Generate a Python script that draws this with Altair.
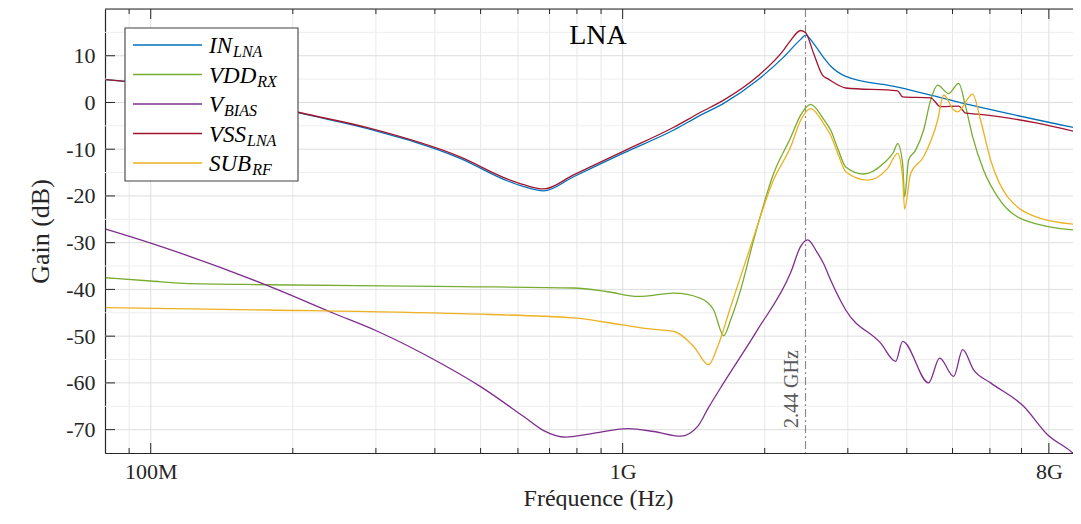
import altair as alt
import pandas as pd

FONT = "Liberation Serif"
INK = "#262626"

# ---------------- data (frequency in GHz, gain in dB) ----------------
names = ["IN_LNA", "VDD_RX", "V_BIAS", "VSS_LNA", "SUB_RF"]
colors = ["#0072BD", "#77AC30", "#7E2F8E", "#A2142F", "#EDB120"]
legend_main = ["IN", "VDD", "V", "VSS", "SUB"]
legend_sub = ["LNA", "RX", "BIAS", "LNA", "RF"]

in_lna_ghz = [0.0803, 0.100, 0.1276, 0.163, 0.2078, 0.288, 0.4536, 0.5706, 0.617, 0.680,
              0.787, 1.0, 1.283, 1.463, 1.637, 1.932, 2.193, 2.383, 2.442, 2.539, 2.666,
              2.758, 2.969, 3.825, 5.279, 10.0]
in_lna_db = [4.9, 3.9, 2.3, 0.3, -2.3, -5.6, -12.0, -16.8, -18.0, -18.9,
             -15.9, -10.9, -5.9, -2.7, -0.2, 4.8, 9.7, 13.5, 14.4, 12.6, 9.6,
             7.8, 5.6, 3.3, -0.2, -6.3]

vdd_rx_ghz = [0.0803, 0.100, 0.1174, 0.177, 0.4536, 0.787, 0.929, 1.081, 1.283, 1.463,
              1.559, 1.637, 1.694, 1.778, 1.895, 2.089, 2.27, 2.383, 2.502, 2.666,
              2.758, 2.86, 2.969, 3.241, 3.573, 3.751, 3.825, 3.919, 3.958, 4.036,
              4.176, 4.342, 4.493, 4.650, 4.906, 5.152, 5.330, 5.515, 5.819, 6.231,
              7.072, 9.34, 10.0]
vdd_rx_db = [-37.5, -38.2, -38.7, -39.0, -39.4, -39.7, -40.5, -41.5, -40.8, -41.9,
             -44.4, -49.9, -46.5, -40.1, -29.4, -15.2, -7.5, -2.7, -0.4, -3.6,
             -5.9, -10.0, -13.8, -15.3, -13.0, -10.6, -8.8, -13.0, -20.2, -12.3,
             -10.2, -5.9, 0.5, 3.7, 1.9, 4.1, -0.9, -7.3, -14.5, -20.2,
             -25.1, -27.4, -27.5]

v_bias_ghz = [0.0803, 0.100, 0.177, 0.244, 0.303, 0.4115, 0.500, 0.617, 0.680, 0.757,
              0.855, 1.025, 1.163, 1.327, 1.442, 1.52, 1.637, 1.932, 2.27, 2.383,
              2.466, 2.58, 2.666, 2.758, 2.969, 3.521, 3.788, 3.919, 4.449, 4.695,
              5.028, 5.253, 5.542, 6.021, 7.072, 7.950, 8.896, 9.34, 10.0]
v_bias_db = [-27.1, -30.1, -39.2, -45.1, -49.0, -55.8, -60.8, -67.2, -70.2, -71.6,
             -70.9, -69.8, -70.4, -71.4, -69.3, -65.3, -60.0, -48.6, -36.4, -30.8,
             -29.4, -32.0, -34.5, -38.0, -44.4, -51.5, -55.4, -51.1, -60.0, -54.7,
             -58.6, -52.9, -57.2, -60.0, -65.0, -71.1, -74.6, -76.5, -79.0]

vss_lna_ghz = [0.0803, 0.100, 0.1276, 0.163, 0.2078, 0.288, 0.4536, 0.5706, 0.617, 0.680,
               0.787, 1.0, 1.283, 1.463, 1.637, 1.932, 2.193, 2.27, 2.383, 2.442,
               2.539, 2.653, 2.718, 2.969, 3.825, 3.919, 4.493, 4.718, 5.152, 5.330,
               5.651, 10.0]
vss_lna_db = [4.9, 3.9, 2.3, 0.4, -2.2, -5.4, -11.7, -16.4, -17.6, -18.5,
              -15.5, -10.5, -5.3, -2.1, 0.5, 5.6, 11.2, 13.3, 15.4, 14.9,
              10.5, 5.8, 5.1, 3.1, 2.5, 1.2, 1.0, -0.9, -0.8, -2.3,
              -2.5, -7.2]

sub_rf_ghz = [0.0803, 0.177, 0.4536, 0.787, 1.0, 1.130, 1.283, 1.414, 1.521, 1.590,
              1.694, 1.886, 2.089, 2.27, 2.383, 2.502, 2.666, 2.758, 2.86, 2.969,
              3.305, 3.643, 3.825, 3.919, 3.958, 4.075, 4.342, 4.650, 4.788, 5.028,
              5.127, 5.515, 5.734, 6.021, 6.543, 7.684, 9.34, 10.0]
sub_rf_db = [-43.9, -44.4, -45.2, -46.1, -47.6, -48.4, -49.0, -52.2, -56.1, -52.2,
             -43.7, -29.4, -16.5, -9.5, -3.8, -1.3, -4.5, -7.0, -11.0, -14.8,
             -16.6, -14.1, -10.9, -15.9, -22.8, -15.2, -11.6, -3.8, 1.6, -1.6,
             -2.0, 1.8, -3.8, -12.3, -20.2, -24.8, -26.2, -26.4]

series_ghz = [in_lna_ghz, vdd_rx_ghz, v_bias_ghz, vss_lna_ghz, sub_rf_ghz]
series_db = [in_lna_db, vdd_rx_db, v_bias_db, vss_lna_db, sub_rf_db]

marker_ghz = [2.44]
marker_label = ["2.44 GHz"]
title_text = "LNA"

x_domain = [8e7, 9.0e9]
y_domain = [-75, 20]
x_tick_values = [1e8, 1e9, 8e9]
x_tick_labels = ["100M", "1G", "8G"]
x_minor_values = [9e7] + [k * 1e8 for k in range(2, 10)] + [k * 1e9 for k in (2, 3, 4, 5, 6, 7)]
y_tick_values = list(range(-70, 11, 10))
y_minor_values = list(range(-65, 16, 10))

# ---------------- layout ----------------
W, H = 968, 444
xs = alt.Scale(type="log", domain=x_domain, nice=False)
ys = alt.Scale(domain=y_domain, nice=False, zero=False)

label_expr = "''"
for v, lab in reversed(list(zip(x_tick_values, x_tick_labels))):
    label_expr = f"abs(datum.value - {v:.0f}) < 1 ? '{lab}' : ({label_expr})"

x_axis = alt.Axis(values=x_tick_values, labelExpr=label_expr, ticks=False, tickSize=0,
                  grid=False, domainColor=INK, domainWidth=1.2, labelFont=FONT,
                  labelFontSize=22, labelColor=INK, labelPadding=25,
                  labelBaseline="alphabetic", labelFlush=False, labelOverlap=False,
                  title="Fréquence (Hz)", titleFont=FONT, titleFontSize=24,
                  titleFontWeight="normal", titleColor=INK, titleBaseline="alphabetic",
                  titleY=52, titleX=493)
y_axis = alt.Axis(values=y_tick_values, labelExpr="datum.value + ''", ticks=False, tickSize=0,
                  grid=False, domainColor=INK, domainWidth=1.2, labelFont=FONT,
                  labelFontSize=22, labelColor=INK, labelPadding=10,
                  title="Gain (dB)", titleFont=FONT, titleFontSize=26,
                  titleFontWeight="normal", titleColor=INK, titleAngle=270,
                  titleX=-57, titleY=H / 2, titleBaseline="alphabetic", titleAlign="center")


def X():
    return alt.X("freq:Q", scale=xs, axis=x_axis)


def Y():
    return alt.Y("gain:Q", scale=ys, axis=y_axis)


one = pd.DataFrame({"k": [0]})
layers = []

# grid
gx_minor = pd.DataFrame({"freq": x_minor_values})
gx_major = pd.DataFrame({"freq": x_tick_values})
gy_minor = pd.DataFrame({"gain": y_minor_values})
gy_major = pd.DataFrame({"gain": y_tick_values})
layers.append(alt.Chart(gx_minor).mark_rule(color="#E8E8E8", strokeWidth=1).encode(x=X()))
layers.append(alt.Chart(gy_minor).mark_rule(color="#EEEEEE", strokeWidth=1).encode(y=Y()))
layers.append(alt.Chart(gx_major).mark_rule(color="#DEDEDE", strokeWidth=1).encode(x=X()))
layers.append(alt.Chart(gy_major).mark_rule(color="#DEDEDE", strokeWidth=1).encode(y=Y()))

# marker line
mk = pd.DataFrame({"freq": [g * 1e9 for g in marker_ghz], "label": marker_label})
layers.append(alt.Chart(mk).mark_rule(color="#8C8C8C", strokeWidth=1.2,
                                      strokeDash=[8, 3, 2, 3]).encode(x=X()))

# curves
for name, col, g, d in zip(names, colors, series_ghz, series_db):
    df = pd.DataFrame({"freq": [v * 1e9 for v in g], "gain": d})
    layers.append(alt.Chart(df).mark_line(color=col, strokeWidth=1.3, interpolate="monotone",
                                          clip=True).encode(x=X(), y=Y()))

# inside ticks
for dfp, ln in ((gx_minor, 5), (gx_major, 10)):
    layers.append(alt.Chart(dfp).mark_rule(color=INK, strokeWidth=1).encode(
        x=X(), y=alt.value(H), y2=alt.value(H - ln)))
    layers.append(alt.Chart(dfp).mark_rule(color=INK, strokeWidth=1).encode(
        x=X(), y=alt.value(0), y2=alt.value(ln)))
layers.append(alt.Chart(gy_major).mark_rule(color=INK, strokeWidth=1).encode(
    y=Y(), x=alt.value(0), x2=alt.value(10)))
# top spine
layers.append(alt.Chart(one).mark_rule(color=INK, strokeWidth=1.2).encode(
    x=alt.value(0), x2=alt.value(W), y=alt.value(0)))

# marker text
layers.append(alt.Chart(mk).mark_text(angle=270, align="center", baseline="alphabetic", dy=-7,
                                      font=FONT, fontSize=20, color="#5A5A5A").encode(
    x=X(), y=alt.value(380), text="label:N"))

# title inside plot
layers.append(alt.Chart(one).mark_text(font=FONT, fontSize=28, color="black", align="center",
                                       baseline="alphabetic").encode(
    x=alt.value(493), y=alt.value(35), text=alt.value(title_text)))

# legend
layers.append(alt.Chart(one).mark_rect(fill="white", stroke="#404040", strokeWidth=1.1).encode(
    x=alt.value(20), x2=alt.value(193), y=alt.value(19), y2=alt.value(172)))
ital = {"I": 0.333, "N": 0.667, "V": 0.611, "D": 0.722, "S": 0.5, "U": 0.722, "B": 0.611}
MAIN_FS, SUB_FS = 23, 16
for i, (col, m, s) in enumerate(zip(colors, legend_main, legend_sub)):
    ry = 36 + 29.5 * i
    layers.append(alt.Chart(one).mark_rule(color=col, strokeWidth=1.3).encode(
        x=alt.value(28), x2=alt.value(97), y=alt.value(ry)))
    layers.append(alt.Chart(one).mark_text(font=FONT, fontSize=MAIN_FS, fontStyle="italic",
                                           color="black", align="left", baseline="alphabetic").encode(
        x=alt.value(104), y=alt.value(ry + 8), text=alt.value(m)))
    wmain = sum(ital[c] for c in m) * MAIN_FS
    layers.append(alt.Chart(one).mark_text(font=FONT, fontSize=SUB_FS, fontStyle="italic",
                                           color="black", align="left", baseline="alphabetic").encode(
        x=alt.value(104 + wmain + 1), y=alt.value(ry + 12), text=alt.value(s)))

chart = alt.layer(*layers).properties(
    width=W, height=H,
    autosize=alt.AutoSizeParams(type="none"),
    padding={"left": 97, "top": 1, "right": 0, "bottom": 57},
).configure_view(stroke=None).configure_axis(
    labelFont=FONT, titleFont=FONT
).configure(font=FONT)

chart.save("out.html", embed_options={"renderer": "svg", "actions": False})
